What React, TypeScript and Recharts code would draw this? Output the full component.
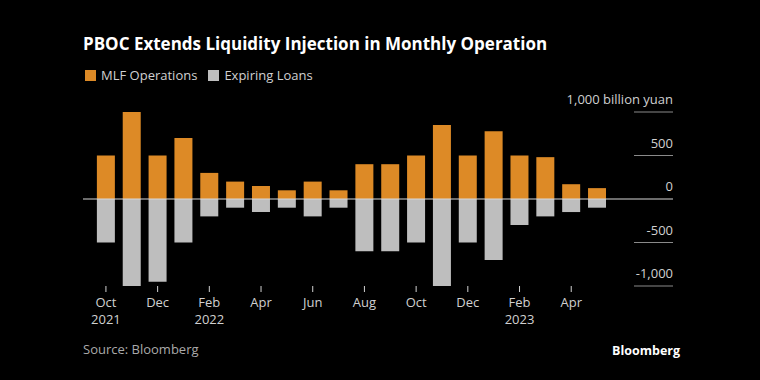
import { BarChart, Bar, XAxis, YAxis, ReferenceLine } from "recharts";

const months = [
  "Oct", "Nov", "Dec", "Jan", "Feb", "Mar", "Apr", "May", "Jun", "Jul",
  "Aug", "Sep", "Oct", "Nov", "Dec", "Jan", "Feb", "Mar", "Apr", "May",
];
const years = [
  "2021", "", "", "", "2022", "", "", "", "", "",
  "", "", "", "", "", "", "2023", "", "", "",
];
const mlfOperations = [
  500, 1000, 500, 700, 300, 200, 150, 100, 200, 100,
  400, 400, 500, 850, 500, 779, 499, 481, 170, 125,
];
const expiringLoans = [
  -500, -1000, -950, -500, -200, -100, -150, -100, -200, -100,
  -600, -600, -500, -1000, -500, -700, -300, -200, -150, -100,
];
const yTicks = [-1000, -500, 0, 500, 1000];

const ORANGE = "#DD8A26";
const GREY = "#BEBEBE";
const FONT = "'Open Sans', 'Noto Sans', sans-serif";

const PLOT_LEFT = 83;
const PLOT_RIGHT = 673;

const data = months.map((m, i) => ({
  key: i,
  month: m,
  year: years[i],
  mlf: mlfOperations[i],
  expiring: expiringLoans[i],
}));

function fmt(v: number) {
  return v.toLocaleString("en-US");
}

function YTick(props: any) {
  const { y, payload } = props;
  const v = payload.value as number;
  const label = v === 1000 ? "1,000 billion yuan" : fmt(v);
  return (
    <g>
      {v !== 0 && (
        <line x1={PLOT_RIGHT - 39} x2={PLOT_RIGHT} y1={y} y2={y} stroke="#8a8a8a" strokeWidth={1} />
      )}
      <text
        x={PLOT_RIGHT}
        y={y - 8}
        textAnchor="end"
        fill="#d0d0d0"
        fontSize={13}
        fontFamily={FONT}
      >
        {label}
      </text>
    </g>
  );
}

function XTick(props: any) {
  const { x, y, payload } = props;
  const d = data[payload.value];
  return (
    <g>
      <text x={x} y={y + 13} textAnchor="middle" fill="#d0d0d0" fontSize={13} fontFamily={FONT}>
        {d.month}
      </text>
      {d.year && (
        <text x={x} y={y + 30} textAnchor="middle" fill="#d0d0d0" fontSize={13} fontFamily={FONT}>
          {d.year}
        </text>
      )}
    </g>
  );
}

function LegendItem({ color, text }: { color: string; text: string }) {
  return (
    <span style={{ display: "inline-flex", alignItems: "center", marginRight: 11 }}>
      <span style={{ width: 11, height: 11, background: color, display: "inline-block", marginRight: 5 }} />
      <span>{text}</span>
    </span>
  );
}

export default function App() {
  return (
    <div
      style={{
        position: "absolute",
        top: 0,
        left: 0,
        width: 760,
        height: 380,
        background: "#000",
        fontFamily: FONT,
      }}
    >
      <div
        style={{
          position: "absolute",
          left: PLOT_LEFT,
          top: 32,
          color: "#fff",
          fontSize: 17,
          fontWeight: 700,
          whiteSpace: "nowrap",
        }}
      >
        PBOC Extends Liquidity Injection in Monthly Operation
      </div>
      <div
        style={{
          position: "absolute",
          left: PLOT_LEFT + 2,
          top: 66,
          color: "#d0d0d0",
          fontSize: 13,
          whiteSpace: "nowrap",
        }}
      >
        <LegendItem color={ORANGE} text="MLF Operations" />
        <LegendItem color={GREY} text="Expiring Loans" />
      </div>
      <BarChart
        width={760}
        height={380}
        data={data}
        stackOffset="sign"
        barCategoryGap="15%"
        margin={{ top: 112, left: PLOT_LEFT, right: 760 - PLOT_RIGHT, bottom: 54 }}
        style={{ position: "absolute", top: 0, left: 0 }}
      >
        <XAxis
          dataKey="key"
          type="category"
          interval={1}
          height={40}
          padding={{ left: 10, right: 63 }}
          axisLine={false}
          tickLine={{ stroke: "#d0d0d0" }}
          tickSize={6}
          tick={<XTick />}
        />
        <YAxis
          orientation="right"
          mirror
          domain={[-1000, 1000]}
          ticks={yTicks}
          axisLine={false}
          tickLine={false}
          tick={<YTick />}
        />
        <Bar dataKey="mlf" stackId="a" fill={ORANGE} isAnimationActive={false} />
        <Bar dataKey="expiring" stackId="a" fill={GREY} isAnimationActive={false} />
        <ReferenceLine y={0} stroke="#d8d8d8" strokeWidth={1} />
      </BarChart>
      <div style={{ position: "absolute", left: PLOT_LEFT, top: 340, color: "#aaa", fontSize: 13 }}>
        Source: Bloomberg
      </div>
      <div
        style={{
          position: "absolute",
          right: 760 - 680,
          top: 342,
          color: "#fff",
          fontSize: 12.5,
          fontWeight: 700,
        }}
      >
        Bloomberg
      </div>
    </div>
  );
}
